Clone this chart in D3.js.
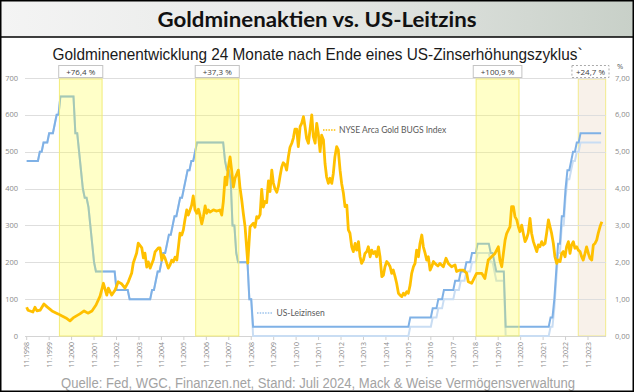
<!DOCTYPE html>
<html><head><meta charset="utf-8">
<script src="https://cdn.jsdelivr.net/npm/d3@7"></script>
<style>body{margin:0;background:#fff} svg{display:block}</style>
</head><body><svg id="c" width="634" height="392"></svg>
<script>
// ---------- DATA ----------
const titleText = "Goldminenaktien vs. US-Leitzins";
const subtitleText = "Goldminenentwicklung 24 Monate nach Ende eines US-Zinserhöhungszyklus`";
const sourceText = "Quelle: Fed, WGC, Finanzen.net, Stand: Juli 2024, Mack & Weise Vermögensverwaltung";

// NYSE Arca Gold BUGS Index (decimal year, value)
const goldTime = [1998.83,1998.89,1999.11,1999.20,1999.29,1999.43,1999.60,1999.74,1999.96,2000.23,2000.41,2000.58,2000.76,2000.90,2001.03,2001.20,2001.39,2001.56,2001.74,2001.92,2002.10,2002.25,2002.40,2002.47,2002.62,2002.77,2002.91,2003.07,2003.21,2003.36,2003.51,2003.58,2003.73,2003.80,2003.96,2004.03,2004.10,2004.18,2004.25,2004.33,2004.47,2004.55,2004.70,2004.77,2004.85,2004.92,2004.99,2005.14,2005.22,2005.29,2005.36,2005.44,2005.52,2005.59,2005.66,2005.74,2005.81,2005.88,2005.96,2006.03,2006.11,2006.18,2006.25,2006.33,2006.41,2006.48,2006.55,2006.63,2006.70,2006.78,2006.85,2006.92,2007.00,2007.15,2007.30,2007.44,2007.52,2007.59,2007.67,2007.74,2007.81,2007.89,2007.96,2008.04,2008.11,2008.26,2008.33,2008.41,2008.48,2008.56,2008.68,2008.78,2008.93,2009.00,2009.08,2009.15,2009.23,2009.30,2009.37,2009.45,2009.52,2009.60,2009.67,2009.75,2009.82,2009.89,2009.97,2010.04,2010.12,2010.19,2010.26,2010.34,2010.41,2010.49,2010.56,2010.64,2010.71,2010.78,2010.86,2010.93,2011.01,2011.08,2011.16,2011.23,2011.30,2011.38,2011.45,2011.53,2011.60,2011.68,2011.75,2011.82,2011.90,2011.97,2012.05,2012.12,2012.19,2012.27,2012.34,2012.42,2012.49,2012.56,2012.64,2012.71,2012.79,2012.86,2012.94,2013.01,2013.09,2013.16,2013.23,2013.31,2013.38,2013.46,2013.53,2013.61,2013.68,2013.75,2013.83,2013.90,2013.98,2014.05,2014.13,2014.20,2014.27,2014.35,2014.42,2014.50,2014.57,2014.65,2014.72,2014.79,2014.87,2014.94,2015.02,2015.09,2015.16,2015.24,2015.31,2015.39,2015.46,2015.54,2015.61,2015.68,2015.76,2015.83,2015.91,2015.98,2016.06,2016.13,2016.20,2016.28,2016.35,2016.43,2016.50,2016.58,2016.65,2016.72,2016.80,2016.87,2016.95,2017.05,2017.15,2017.24,2017.39,2017.51,2017.61,2017.76,2017.91,2017.98,2018.13,2018.28,2018.43,2018.50,2018.65,2018.87,2019.10,2019.24,2019.39,2019.54,2019.69,2019.84,2019.91,2019.99,2020.14,2020.21,2020.36,2020.43,2020.51,2020.58,2020.66,2020.73,2020.80,2020.88,2020.95,2021.03,2021.10,2021.17,2021.25,2021.32,2021.40,2021.55,2021.62,2021.69,2021.77,2021.84,2021.92,2021.99,2022.07,2022.14,2022.21,2022.29,2022.36,2022.44,2022.51,2022.59,2022.66,2022.73,2022.81,2022.88,2022.96,2023.03,2023.10,2023.18,2023.25,2023.33,2023.40,2023.48,2023.55,2023.62,2023.70,2023.77,2023.85,2023.92,2024.00,2024.07,2024.14,2024.22,2024.29,2024.37,2024.45];
const goldValue = [78,70,65,78,68,70,87,79,68,60,54,49,41,49,54,60,68,62,68,84,108,143,111,130,111,125,147,141,130,147,171,198,225,252,239,212,225,187,201,184,206,228,239,239,206,220,212,184,193,206,201,214,206,241,279,274,288,315,342,328,342,355,380,342,333,344,328,304,323,353,333,342,336,342,339,342,328,364,431,410,456,486,450,404,428,450,404,369,333,296,198,296,306,295,324,320,330,398,350,365,362,421,392,450,415,400,390,405,435,458,470,465,450,487,512,523,537,561,561,514,568,577,595,568,536,523,559,600,541,523,577,550,500,545,532,468,432,414,428,414,441,486,514,505,450,414,387,351,355,288,279,242,229,251,233,256,215,197,206,224,229,242,215,233,224,229,215,242,215,161,165,188,202,197,188,170,179,161,143,116,111,107,116,111,120,116,138,170,188,197,233,215,251,274,242,224,206,215,179,188,202,195,190,197,188,211,197,188,193,175,179,179,170,147,143,170,170,156,206,215,224,242,206,188,260,278,297,351,351,324,315,297,283,301,279,256,265,279,319,279,256,229,247,242,256,247,251,279,315,297,279,251,215,197,206,202,224,229,215,242,256,224,247,256,238,242,233,229,215,206,224,242,224,211,206,247,251,260,279,297,310];

// US federal funds target (month of change, upper bound, lower bound)
const rateMonth = ["1998-11","1999-06","1999-08","1999-11","2000-02","2000-03","2000-05","2001-01","2001-03","2001-04","2001-05","2001-06","2001-08","2001-09","2001-10","2001-11","2001-12","2002-11","2003-06","2004-06","2004-08","2004-09","2004-11","2004-12","2005-02","2005-03","2005-05","2005-06","2005-08","2005-09","2005-11","2005-12","2006-01","2006-03","2006-05","2006-06","2007-09","2007-10","2007-12","2008-01","2008-03","2008-04","2008-10","2008-12","2015-12","2016-12","2017-03","2017-06","2017-12","2018-03","2018-06","2018-09","2018-12","2019-07","2019-09","2019-10","2020-03","2022-03","2022-05","2022-06","2022-07","2022-09","2022-11","2022-12","2023-02","2023-03","2023-05","2023-07"];
const rateUpper = [4.75,5.00,5.25,5.50,5.75,6.00,6.50,5.50,5.00,4.50,4.00,3.75,3.50,3.00,2.50,2.00,1.75,1.25,1.00,1.25,1.50,1.75,2.00,2.25,2.50,2.75,3.00,3.25,3.50,3.75,4.00,4.25,4.50,4.75,5.00,5.25,4.75,4.50,4.25,3.00,2.25,2.00,1.00,0.25,0.50,0.75,1.00,1.25,1.50,1.75,2.00,2.25,2.50,2.25,2.00,1.75,0.25,0.50,1.00,1.75,2.50,3.25,4.00,4.50,4.75,5.00,5.25,5.50];
const rateLower = [4.75,5.00,5.25,5.50,5.75,6.00,6.50,5.50,5.00,4.50,4.00,3.75,3.50,3.00,2.50,2.00,1.75,1.25,1.00,1.25,1.50,1.75,2.00,2.25,2.50,2.75,3.00,3.25,3.50,3.75,4.00,4.25,4.50,4.75,5.00,5.25,4.75,4.50,4.25,3.00,2.25,2.00,1.00,0.00,0.25,0.50,0.75,1.00,1.25,1.50,1.75,2.00,2.25,2.00,1.75,1.50,0.00,0.25,0.75,1.50,2.25,3.00,3.75,4.25,4.50,4.75,5.00,5.25];
const rateEnd = "2024-06";

// 24-month windows after end of hiking cycles
const bandStart = [2000.29, 2006.36, 2018.85, 2023.40];
const bandEnd   = [2002.19, 2008.28, 2020.76, 2024.62];
const bandLabel = ["+76,4 %", "+37,3 %", "+100,9 %", "+24,7 %"];

const xTickYears = d3.range(1998, 2024);
const yTicksLeft = [0,100,200,300,400,500,600,700];
const yTicksRight = [0,1,2,3,4,5,6,7];

// ---------- BUILD ----------
const rateMonthly = [];
{
  const [y0,m0] = rateMonth[0].split("-").map(Number);
  const [y1,m1] = rateEnd.split("-").map(Number);
  let k = 0;
  for (let yy=y0,m=m0; yy<y1 || (yy===y1 && m<=m1); ) {
    const key = `${yy}-${String(m).padStart(2,"0")}`;
    while (k+1 < rateMonth.length && rateMonth[k+1] <= key) k++;
    rateMonthly.push({t: yy+(m-1)/12, up: rateUpper[k], lo: rateLower[k]});
    m++; if (m>12){m=1;yy++;}
  }
}
const gold = goldTime.map((t,i)=>({t, v: goldValue[i]}));

const svg = d3.select("#c");
const W = 634, H = 392;
const x = d3.scaleLinear().domain([1998.833, 2023.833]).range([26.7, 588]);
const y = d3.scaleLinear().domain([0,700]).range([336,78]);
const y2 = d3.scaleLinear().domain([0,7]).range([336,78]);
const plotL = 25, plotR = 606;

const defs = svg.append("defs");
const lg = defs.append("linearGradient").attr("id","tg").attr("x1","0").attr("x2","1").attr("y1","0").attr("y2","0");
lg.append("stop").attr("offset","0").attr("stop-color","#f4f4f4");
lg.append("stop").attr("offset","0.5").attr("stop-color","#e6e8e6");
lg.append("stop").attr("offset","1").attr("stop-color","#c8d0c8");

svg.append("rect").attr("width",W).attr("height",H).attr("fill","#fff");
svg.append("rect").attr("x",0).attr("y",0).attr("width",W).attr("height",37).attr("fill","url(#tg)");
svg.append("line").attr("x1",0).attr("x2",W).attr("y1",37).attr("y2",37).attr("stroke","#000").attr("stroke-width",1.5);

svg.append("text").attr("x",317).attr("y",27).attr("text-anchor","middle")
  .attr("font-family","Lato, 'Open Sans', sans-serif").attr("font-weight","bold").attr("font-size",21)
  .attr("fill","#111").attr("textLength",319).attr("lengthAdjust","spacingAndGlyphs").text(titleText);
svg.append("text").attr("x",317.5).attr("y",59.5).attr("text-anchor","middle")
  .attr("font-family","'Liberation Sans Narrow','Arial Narrow','Liberation Sans',sans-serif").attr("font-size",17)
  .attr("fill","#1a1a1a").attr("textLength",530).attr("lengthAdjust","spacingAndGlyphs").text(subtitleText);

// band 4 (beige, under lines)
const g = svg.append("g");
g.append("rect").attr("x",x(bandStart[3])).attr("y",79).attr("width",x(bandEnd[3])-x(bandStart[3])).attr("height",336-79)
  .attr("fill","#f8f1ea").attr("stroke","#f2ea8c").attr("stroke-width",1);

// gridlines
g.selectAll(".grid").data(yTicksLeft.slice(1)).join("line")
  .attr("x1",plotL).attr("x2",plotR).attr("y1",d=>Math.round(y(d))+0.5).attr("y2",d=>Math.round(y(d))+0.5)
  .attr("stroke","#dedede").attr("stroke-width",1);
g.append("line").attr("x1",plotL).attr("x2",plotR).attr("y1",336.5).attr("y2",336.5).attr("stroke","#d4d4d4");
g.selectAll(".tk").data(xTickYears).join("line")
  .attr("x1",d=>x(d+0.833)).attr("x2",d=>x(d+0.833)).attr("y1",336.5).attr("y2",340)
  .attr("stroke","#cfcfcf");

// rate lines
const rl = d3.line().x(d=>x(d.t)).y(d=>y2(d.lo));
const ru = d3.line().x(d=>x(d.t)).y(d=>y2(d.up));
g.append("path").attr("d",rl(rateMonthly)).attr("fill","none").attr("stroke","#c9ddf3").attr("stroke-width",2);
g.append("path").attr("d",ru(rateMonthly)).attr("fill","none").attr("stroke","#7fb1e6").attr("stroke-width",2);

// yellow bands (overlay)
for (let i=0;i<3;i++){
  g.append("rect").attr("x",x(bandStart[i])).attr("y",79).attr("width",x(bandEnd[i])-x(bandStart[i])).attr("height",336-79)
    .attr("fill","#ffff4a").attr("fill-opacity",0.3).attr("stroke","#f2ec7a").attr("stroke-width",1);
}

// gold line
const gl = d3.line().x(d=>x(d.t)).y(d=>y(d.v)).curve(d3.curveLinear);
g.append("path").attr("d",gl(gold)).attr("fill","none").attr("stroke","#ffc000").attr("stroke-width",2.8)
  .attr("stroke-linejoin","round");

// annotation boxes
const boxPad = [15, 15, 15, 8];
const boxShift = [0, 0, 0, -1.5];
bandLabel.forEach((lab,i)=>{
  const cx = (x(bandStart[i])+x(bandEnd[i]))/2 + boxShift[i];
  const t = svg.append("text").attr("x",cx).attr("y",74.5).attr("text-anchor","middle")
    .attr("font-family","'Open Sans', sans-serif").attr("font-size",8).attr("fill","#404040").text(lab);
  const w = t.node().getComputedTextLength()+boxPad[i];
  svg.insert("rect", () => t.node()).attr("x",cx-w/2).attr("y",65.5).attr("width",w).attr("height",12)
    .attr("fill","#fff").attr("stroke", i===3?"#aaaaaa":"#c4c4c4").attr("stroke-width",1)
    .attr("stroke-dasharray", i===3?"2,2":null);
});

// left axis labels
svg.selectAll(".yl").data(yTicksLeft).join("text")
  .attr("x",18).attr("y",d=>y(d)).attr("dy","0.35em").attr("text-anchor","end")
  .attr("font-family","'Open Sans', sans-serif").attr("font-size",7.5).attr("fill","#8a8a8a").text(d=>d);
// right axis labels
svg.selectAll(".yr").data(yTicksRight).join("text")
  .attr("x",615).attr("y",d=>y2(d)).attr("dy","0.35em")
  .attr("font-family","'Open Sans', sans-serif").attr("font-size",7.5).attr("fill","#8a8a8a")
  .text(d=>d3.format(".2f")(d).replace(".",","));
svg.append("text").attr("x",620).attr("y",68.5).attr("text-anchor","middle")
  .attr("font-family","'Open Sans', sans-serif").attr("font-size",7.5).attr("fill","#555").text("%");

// x labels
svg.selectAll(".xl").data(xTickYears).join("text")
  .attr("transform",d=>`translate(${x(d+0.833)+2.6},342) rotate(-90)`).attr("text-anchor","end")
  .attr("font-family","'Open Sans', sans-serif").attr("font-size",7).attr("fill","#8a8a8a")
  .text(d=>"11."+d);

// legends
svg.append("line").attr("x1",323).attr("x2",336).attr("y1",130).attr("y2",130)
  .attr("stroke","#ffc000").attr("stroke-width",1.5).attr("stroke-dasharray","1.5,1.2");
svg.append("text").attr("x",339).attr("y",130).attr("dy","0.35em")
  .attr("font-family","Lato, sans-serif").attr("font-size",8.5).attr("fill","#595959").text("NYSE Arca Gold BUGS Index");
svg.append("line").attr("x1",257).attr("x2",272).attr("y1",313).attr("y2",313)
  .attr("stroke","#9cc3ec").attr("stroke-width",1.5).attr("stroke-dasharray","1.5,1.2");
svg.append("text").attr("x",276.5).attr("y",313).attr("dy","0.35em")
  .attr("font-family","Lato, sans-serif").attr("font-size",8.5).attr("fill","#595959").text("US-Leizinsen");

// source
svg.append("text").attr("x",318).attr("y",388).attr("text-anchor","middle")
  .attr("font-family","'Liberation Sans Narrow','Arial Narrow','Liberation Sans',sans-serif").attr("font-size",14)
  .attr("fill","#a3a3a3").attr("textLength",514).attr("lengthAdjust","spacingAndGlyphs").text(sourceText);

// outer frame
svg.append("rect").attr("x",0.75).attr("y",0.75).attr("width",W-1.5).attr("height",H-1.5)
  .attr("fill","none").attr("stroke","#000").attr("stroke-width",1.5);
</script></body></html>
